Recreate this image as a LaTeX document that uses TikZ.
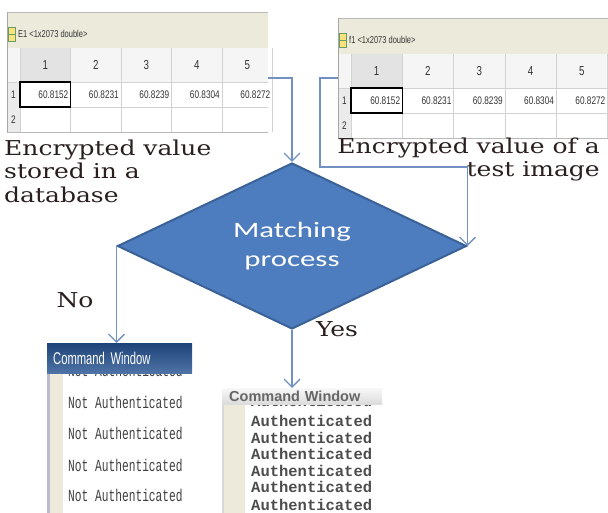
\documentclass[tikz,border=0pt]{standalone}
\usepackage{fontspec}
\usepackage{xcolor}
\usetikzlibrary{arrows.meta, shapes.geometric, positioning}

\newfontfamily\capfont[FakeStretch=1.22]{DejaVu Serif}
\newfontfamily\boxfont[FakeStretch=1.4]{Carlito}
\newfontfamily\gridfont[FakeStretch=0.75]{Liberation Sans}
\newfontfamily\cwfont[FakeStretch=0.66]{Liberation Sans}
\newfontfamily\cwgrey{Liberation Sans}
\newfontfamily\notfont[FakeStretch=0.66]{Liberation Mono}
\newfontfamily\okfont{Liberation Mono}

\definecolor{flowblue}{HTML}{7192C0}
\definecolor{boxblue}{HTML}{4D7DBE}
\definecolor{boxedge}{HTML}{3B6296}
\definecolor{titlebeige}{HTML}{ECEADB}
\definecolor{gutterbeige}{HTML}{EEEADB}
\definecolor{cwblue}{HTML}{23508F}
\definecolor{labelink}{HTML}{2A1F1F}

\tikzset{
  flow/.style={draw=flowblue, line width=1.3pt, -{Straight Barb[length=8pt,width=16pt]}},
  caption/.style={inner sep=0pt, text=labelink, font={\capfont\fontsize{20.5}{23.5}\selectfont}},
  decision/.style={diamond, draw=boxedge, line width=2pt, fill=boxblue, text=white,
    minimum width=349pt, minimum height=156pt, inner sep=0pt, align=center,
    font={\boxfont\fontsize{22}{29.5}\selectfont}},
  cell/.style={inner sep=0pt, text=black!80, font={\gridfont\fontsize{11}{12}\selectfont}},
  nottext/.style={anchor=west, inner sep=0pt, text=black!75, font={\notfont\fontsize{17}{18}\selectfont}},
  oktext/.style={anchor=west, inner sep=0pt, text=black!70, font={\okfont\bfseries\fontsize{15.5}{16}\selectfont}}
}

\begin{document}
\begin{tikzpicture}[x=1pt, y=-1pt]
  \useasboundingbox (0,0) rectangle (608,513);
  \clip (0,0) rectangle (608,513);

  % Key coordinates (pixel grid of the screenshot)
  \coordinate (E1port) at (268,78);   % out of the stored table
  \coordinate (f1port) at (338,78);   % out of the test table
  \coordinate (f1turn) at (320,167);  % bend of the test line

  % --- MATLAB variable tables ---
  \foreach \tx/\ty/\tw/\cw/\ttitle in {7/12/261/50.5/{E1 \textless1x2073 double\textgreater},
                                       338/18/280/51.3/{f1 \textless1x2073 double\textgreater}} {
    \begin{scope}[shift={(\tx,\ty)}]
      % title bar
      \fill[titlebeige] (0,0) rectangle (\tw,36);
      \draw[gray!55] (0,0) -- (\tw,0);
      \draw[gray!70] (0,36) -- (\tw,36);
      \fill[yellow!60!orange!50] (1,15) rectangle (8,29);
      \draw[green!35!black!60, line width=0.5pt] (1,15) rectangle (8,29) (1,22) -- (8,22);
      \node[cell, anchor=west, font={\gridfont\fontsize{10}{11}\selectfont}] at (11,22) {\ttitle};
      % header row and row numbers
      \fill[gray!8] (0,36) rectangle (\tw,70);
      \fill[gray!22] (13,36) rectangle (13+\cw,70);
      \fill[gray!16] (0,70) rectangle (13,120);
      \foreach \c in {0,...,5}
        \draw[gray!35] (13+\c*\cw,36) -- (13+\c*\cw,120);
      \draw[gray!35] (0,70) -- (\tw,70) (13,95) -- (\tw,95);
      \draw[gray!55] (0,120) -- (\tw,120);
      \draw[gray!70, line width=0.8pt] (0,0) -- (0,120);
      \foreach \c in {1,...,5}
        \node[cell, font={\gridfont\fontsize{13}{14}\selectfont}] at (13+\c*\cw-0.5*\cw,53) {\c};
      \node[cell] at (6.5,83) {1};
      \node[cell] at (6.5,108) {2};
      % first row of values
      \foreach \c/\v in {1/60.8152, 2/60.8231, 3/60.8239, 4/60.8304, 5/60.8272}
        \node[cell, anchor=east] at (13+\c*\cw-2,83) {\v};
      \draw[black, line width=1.5pt] (13,70) rectangle (13+\cw,95);
    \end{scope}
  }

  % --- Captions ---
  \node[caption, anchor=north west, align=left] (dbcap) at (4,139.5)
    {Encrypted value\\stored in a\\database};
  \node[caption, anchor=north east, align=right] (testcap) at (600,137.5)
    {Encrypted value of a\\test image};

  % --- Decision ---
  \node[decision] (match) at (292,246) {Matching\\process};

  \draw[flow] (E1port) -| (match.north);
  \draw[flow] (f1port) -| (f1turn) -| (match.east);

  % --- Command window: No ---
  \fill[gutterbeige] (50,373) rectangle (63,513);
  \fill[blue!20!gray!45] (47,373) rectangle (50,513);
  \begin{scope}
    \clip (47,373) rectangle (230,390);
    \node[nottext] at (68,370) {Not Authenticated};
  \end{scope}
  \node[anchor=north west, top color=cwblue!85!black, bottom color=cwblue!80!white,
        minimum height=30pt, text width=133pt, inner xsep=6pt, inner ysep=0pt,
        text=white, font={\cwfont\fontsize{17}{18}\selectfont}] (winNo) at (47,343) {Command Window};
  \foreach \ly in {402,433,465,495}
    \node[nottext] at (68,\ly) {Not Authenticated};

  % --- Command window: Yes ---
  \fill[gutterbeige] (224,403) rectangle (245,513);
  \fill[gray!30] (222,403) rectangle (224,513);
  \begin{scope}
    \clip (222,404) rectangle (400,415);
    \node[oktext] at (251,401) {Authenticated};
  \end{scope}
  \node[anchor=north west, top color=gray!6, bottom color=gray!28,
        minimum height=16pt, text width=146pt, inner xsep=7pt, inner ysep=0pt,
        text=black!60, font={\cwgrey\bfseries\fontsize{14.5}{15}\selectfont}] (winYes) at (222,388) {Command Window};
  \foreach \ly in {421,438,454,471,487,505}
    \node[oktext] at (251,\ly) {Authenticated};

  % --- Outcomes ---
  \draw[flow] (match.west) -- (match.west |- winNo.north);
  \draw[flow] (match.south) -- (match.south |- winYes.north);
  \node[caption] (nolbl) at (75,300) {No};
  \node[caption] (yeslbl) at (337,329) {Yes};
\end{tikzpicture}
\end{document}
